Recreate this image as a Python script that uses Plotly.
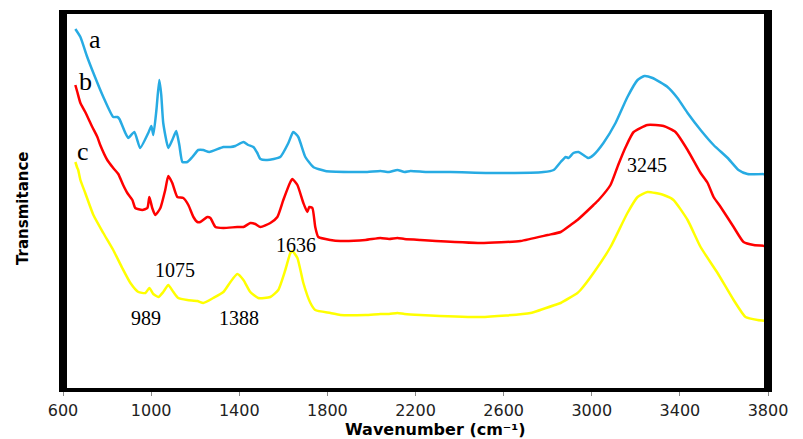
import plotly.graph_objects as go

# Wavenumber (cm-1) and transmittance (arbitrary units)
wn_a = [656, 679, 710, 738, 783, 828, 847, 856, 883, 896, 924, 950, 987, 1001, 1010, 1024, 1037, 1046,
        1055, 1078, 1096, 1114, 1128, 1142, 1164, 1187, 1214, 1237, 1264, 1328, 1360, 1382, 1419, 1441,
        1464, 1482, 1496, 1527, 1586, 1623, 1645, 1668, 1700, 1736, 1791, 1900, 1981, 2041, 2080, 2118,
        2150, 2177, 2250, 2359, 2586, 2781, 2827, 2859, 2882, 2895, 2917, 2940, 2962, 2985, 3008, 3053,
        3108, 3162, 3208, 3239, 3276, 3344, 3389, 3435, 3494, 3553, 3617, 3666, 3707, 3800]
t_a = [361, 353, 333, 317, 293, 273, 273, 271, 257, 252, 258, 242, 257, 264, 255, 280, 310, 295,
       267, 242, 250, 259, 245, 228, 228, 233, 240, 240, 238, 243, 243, 244, 248, 245,
       243, 237, 231, 230, 233, 247, 258, 253, 233, 223, 219, 218, 218, 219, 218, 220,
       218, 219, 218, 218, 217, 218, 220, 228, 233, 232, 237, 238, 235, 232, 235, 247,
       267, 293, 310, 314, 312, 303, 292, 277, 260, 245, 232, 220, 216, 216]

wn_b = [656, 665, 679, 701, 733, 756, 769, 801, 828, 851, 873, 892, 915, 928, 960, 983, 992, 1005,
        1019, 1042, 1064, 1078, 1096, 1119, 1146, 1169, 1192, 1210, 1223, 1255, 1269, 1292, 1328, 1391,
        1419, 1450, 1473, 1496, 1541, 1573, 1600, 1632, 1641, 1664, 1691, 1709, 1718, 1732, 1745, 1759,
        1814, 1859, 1973, 2041, 2080, 2118, 2150, 2222, 2495, 2677, 2800, 2859, 2904, 2935, 3008, 3031,
        3085, 3120, 3154, 3190, 3253, 3326, 3380, 3435, 3494, 3526, 3553, 3585, 3644, 3689, 3735, 3800]
t_b = [305, 298, 287, 278, 263, 253, 245, 230, 222, 216, 205, 197, 190, 182, 180, 182, 193, 182,
       175, 182, 200, 214, 207, 193, 192, 185, 173, 168, 168, 173, 172, 163, 162, 163,
       163, 167, 166, 163, 167, 173, 190, 208, 211, 205, 187, 178, 183, 182, 163, 153,
       150, 149, 150, 152, 151, 152, 151, 150, 147, 149, 155, 158, 165, 170, 185, 190,
       205, 225, 243, 258, 265, 264, 258, 240, 217, 207, 193, 183, 163, 148, 145, 144]

wn_c = [656, 665, 669, 679, 701, 738, 783, 828, 869, 906, 942, 974, 992, 1010, 1033, 1055, 1078, 1101,
        1123, 1164, 1210, 1237, 1282, 1328, 1360, 1391, 1419, 1450, 1486, 1541, 1577, 1609, 1632, 1641,
        1664, 1691, 1723, 1745, 1814, 1859, 1973, 2041, 2080, 2118, 2150, 2222, 2495, 2722, 2845, 2859,
        2935, 2949, 3008, 3085, 3162, 3208, 3253, 3326, 3371, 3435, 3494, 3571, 3644, 3698, 3753, 3800]
t_c = [228, 222, 220, 210, 197, 175, 157, 140, 122, 107, 98, 97, 102, 96, 93, 98, 105, 98,
       92, 90, 89, 87, 92, 98, 108, 116, 110, 98, 92, 93, 100, 120, 137, 139,
       132, 107, 87, 80, 77, 75, 75, 76, 76, 77, 76, 75, 73, 77, 86, 87,
       97, 100, 117, 143, 177, 193, 198, 195, 190, 170, 143, 117, 90, 73, 70, 69]

series_names = ["a", "b", "c"]
series_colors = ["#27ABE3", "#FF0000", "#FFFF00"]

x_ticks = [600, 1000, 1400, 1800, 2200, 2600, 3000, 3400, 3800]

# curve letter labels (text, x, y)
letter_labels = [("a", 747, 351), ("b", 701, 309), ("c", 692, 239)]
# peak labels (text, x, y)
peak_labels = [("1075", 1110, 120), ("989", 978, 72), ("1388", 1401, 72),
               ("1636", 1659, 145), ("3245", 3253, 225)]

fig = go.Figure()
for name, xs, ys, col in zip(series_names, [wn_a, wn_b, wn_c], [t_a, t_b, t_c], series_colors):
    fig.add_trace(go.Scatter(x=xs, y=ys, mode="lines", name=name, showlegend=False,
                             line=dict(color=col, width=2.5, shape="spline", smoothing=0.5)))

annotations = []
for txt, x, y in letter_labels:
    annotations.append(dict(text=txt, x=x, y=y, xref="x", yref="y", showarrow=False,
                            font=dict(family="Liberation Serif", size=26, color="#000")))
for txt, x, y in peak_labels:
    annotations.append(dict(text=txt, x=x, y=y, xref="x", yref="y", showarrow=False,
                            font=dict(family="Liberation Serif", size=20, color="#000")))
annotations.append(dict(text="Wavenumber (cm⁻¹)", x=0.528, y=-0.1045, xref="paper", yref="paper",
                        showarrow=False, xanchor="center", yanchor="middle",
                        font=dict(family="DejaVu Sans", size=16, color="#000", weight="bold")))
annotations.append(dict(text="Transmitance", x=-0.057, y=0.481, xref="paper", yref="paper",
                        showarrow=False, textangle=-90, xanchor="center", yanchor="middle",
                        font=dict(family="DejaVu Sans", size=15, color="#000", weight="bold")))

shapes = [
    dict(type="line", xref="paper", yref="paper", x0=0, x1=0, y0=-0.005, y1=1.005,
         line=dict(color="#000", width=8)),
    dict(type="line", xref="paper", yref="paper", x0=1, x1=1, y0=-0.005, y1=1.005,
         line=dict(color="#000", width=8)),
    dict(type="line", xref="paper", yref="paper", x0=0, x1=1, y0=1, y1=1,
         line=dict(color="#000", width=4)),
    dict(type="line", xref="paper", yref="paper", x0=0, x1=1, y0=0, y1=0,
         line=dict(color="#000", width=4)),
]

fig.update_layout(
    width=803, height=439,
    margin=dict(l=63, r=35, t=12, b=49),
    plot_bgcolor="white", paper_bgcolor="white",
    annotations=annotations, shapes=shapes,
    xaxis=dict(range=[600, 3800], tickvals=x_ticks, ticktext=[str(v) for v in x_ticks],
               showgrid=False, zeroline=False, showline=False,
               ticks="outside", ticklen=5, tickcolor="#888", tickwidth=1,
               ticklabelstandoff=1,
               tickfont=dict(family="DejaVu Sans", size=16, color="#222")),
    yaxis=dict(range=[0, 378], visible=False, showgrid=False, zeroline=False),
)

fig.write_html("out.html", config={"displayModeBar": False},
               post_script="document.body.style.margin='0';document.body.style.overflow='hidden';")
